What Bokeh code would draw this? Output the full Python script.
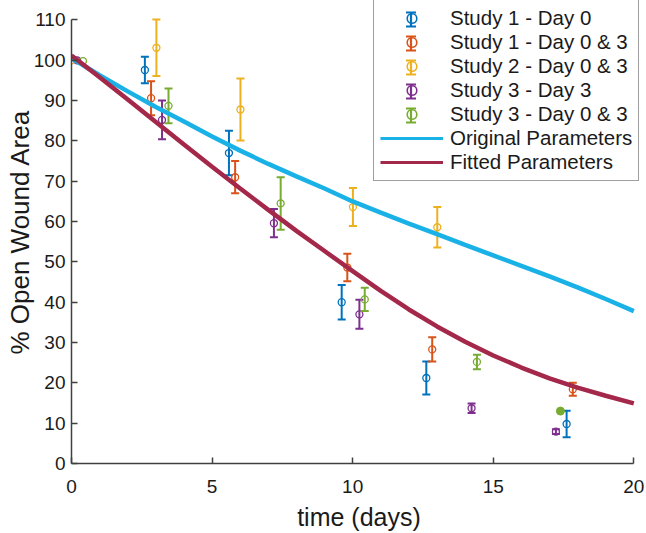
from bokeh.plotting import figure
from bokeh.models import Range1d, Legend, LegendItem, ColumnDataSource, FixedTicker
from bokeh.embed import file_html
from bokeh.resources import INLINE

# ---------------- data ----------------
x_ticks = [0, 5, 10, 15, 20]
y_ticks = [0, 10, 20, 30, 40, 50, 60, 70, 80, 90, 100, 110]

series_names = ["Study 1 - Day 0", "Study 1 - Day 0 & 3", "Study 2 - Day 0 & 3",
                "Study 3 - Day 3", "Study 3 - Day 0 & 3"]
series_colors = ["#0072BD", "#D95319", "#EDB120", "#7E2F8E", "#77AC30"]

s1_t = [2.61, 5.60, 9.61, 12.62, 17.61]
s1_y = [97.6, 77.0, 40.0, 21.2, 9.8]
s1_e = [3.3, 5.5, 4.3, 4.1, 3.3]

s2_t = [2.83, 5.82, 9.81, 12.83, 17.83]
s2_y = [90.6, 71.0, 48.6, 28.3, 18.4]
s2_e = [4.2, 4.0, 3.4, 3.0, 1.6]

s3_t = [0.0, 3.02, 6.01, 10.01, 13.01]
s3_y = [100.0, 103.1, 87.8, 63.6, 58.6]
s3_e = [0.0, 7.0, 7.7, 4.7, 5.0]

s4_t = [0.2, 3.22, 7.20, 10.24, 14.23, 17.23]
s4_y = [100.0, 85.2, 59.6, 37.0, 13.7, 7.9]
s4_e = [0.0, 4.8, 3.5, 3.6, 1.2, 0.6]

s5_t = [0.41, 3.45, 7.44, 10.43, 14.42]
s5_y = [99.8, 88.7, 64.5, 40.7, 25.2]
s5_e = [0.0, 4.3, 6.5, 2.9, 1.8]
s5_solid_t = [17.39]
s5_solid_y = [13.0]

curve_t = [0, 1, 2, 3, 4, 5, 6, 7, 8, 9, 10, 11, 12, 13, 14, 15, 16, 17, 18, 19, 20]
original_y = [100.5, 96.3, 92.3, 88.4, 84.8, 81.1, 77.6, 74.3, 71.2, 68.2, 65.0,
              62.2, 59.5, 56.9, 54.2, 51.6, 49.0, 46.4, 43.7, 40.8, 37.8]
fitted_y = [101.2, 95.8, 90.3, 84.7, 79.1, 73.6, 68.2, 62.9, 57.7, 52.7, 47.7,
            42.8, 38.2, 34.0, 30.2, 26.8, 23.8, 21.1, 18.8, 16.8, 14.9]

line_names = ["Original Parameters", "Fitted Parameters"]
line_colors = ["#1AB2E6", "#A4284A"]

# ---------------- figure ----------------
FONT = "Liberation Sans"
AX = "#404040"
W, H = 646, 533
BORDER_L, BORDER_B = 71, 70
# the frame reaches the top and right edges so that the legend fits there;
# the axis lines are bounded to the data limits
Y_TOP = 110 + 19.5 / 4.036
X_RIGHT = 20 + 12.7 / 28.13

p = figure(width=W, height=H, output_backend="svg", toolbar_location=None,
           x_range=Range1d(0, X_RIGHT), y_range=Range1d(0, Y_TOP),
           min_border_left=BORDER_L, min_border_right=0, min_border_top=0,
           min_border_bottom=BORDER_B)
p.outline_line_color = None
p.grid.visible = False
p.background_fill_color = "white"
p.border_fill_color = "white"


def errbars(t, y, e, color):
    bt = [a for a, b in zip(t, e) if b > 0]
    lo = [c - b for c, b in zip(y, e) if b > 0]
    hi = [c + b for c, b in zip(y, e) if b > 0]
    p.segment(bt, lo, bt, hi, line_color=color, line_width=2)
    p.scatter(bt, lo, marker="dash", size=8, line_color=color, line_width=2)
    p.scatter(bt, hi, marker="dash", size=8, line_color=color, line_width=2)
    p.scatter(t, y, marker="circle", size=7, fill_color=None,
              line_color=color, line_width=1.3)


all_series = [(s1_t, s1_y, s1_e), (s2_t, s2_y, s2_e), (s3_t, s3_y, s3_e),
              (s4_t, s4_y, s4_e), (s5_t, s5_y, s5_e)]
for (t, y, e), c in zip(all_series, series_colors):
    errbars(t, y, e, c)
p.scatter(s5_solid_t, s5_solid_y, marker="circle", size=8,
          fill_color=series_colors[4], line_color=series_colors[4])

p.line(curve_t, original_y, line_color=line_colors[0], line_width=4.5)
p.line(curve_t, fitted_y, line_color=line_colors[1], line_width=4.5)

# ---------------- legend (proxy renderers, NaN data -> not drawn in plot) ----------------
NAN = float("nan")
items = []
for name, c in zip(series_names, series_colors):
    src = ColumnDataSource(dict(x=[NAN], y=[NAN]))
    r = p.scatter("x", "y", source=src, marker="circle", size=10, fill_color=None,
                  line_color=c, line_width=1.6)
    items.append(LegendItem(label=name, renderers=[r]))
for name, c in zip(line_names, line_colors):
    src = ColumnDataSource(dict(x=[NAN, NAN], y=[NAN, NAN]))
    r = p.line("x", "y", source=src, line_color=c, line_width=3)
    items.append(LegendItem(label=name, renderers=[r]))

LG_X, LG_Y = 302, 282          # legend bottom-left, relative to the frame (px)
LG_PAD, LG_GW, LG_GH, LG_SP = 6, 63, 24, 0
legend = Legend(items=items, location=(LG_X, LG_Y), glyph_width=LG_GW, glyph_height=LG_GH,
                label_height=LG_GH, label_standoff=7, spacing=LG_SP, padding=LG_PAD,
                label_text_font=FONT, label_text_font_size="20.5px",
                label_text_color="#1a1a1a",
                border_line_color=AX, border_line_width=1.5,
                background_fill_color="white", background_fill_alpha=0.0)
p.add_layout(legend)

# error-bar stems/caps of the legend icons, placed under the (transparent) legend
px_per_x = (W - BORDER_L) / X_RIGHT
px_per_y = (H - BORDER_B) / Y_TOP
n_items = len(items)
lg_h = 2 * LG_PAD + n_items * LG_GH + (n_items - 1) * LG_SP
icon_x = (LG_X + LG_PAD + LG_GW / 2) / px_per_x
for i, c in enumerate(series_colors):
    cy = LG_Y + lg_h - LG_PAD - LG_GH / 2 - i * (LG_GH + LG_SP)
    lo, hi = (cy - 7) / px_per_y, (cy + 7) / px_per_y
    p.segment([icon_x], [lo], [icon_x], [hi], line_color=c, line_width=2.2)
    p.scatter([icon_x, icon_x], [lo, hi], marker="dash", size=10,
              line_color=c, line_width=2.2)

# ---------------- axes ----------------
for ax in (p.xaxis[0], p.yaxis[0]):
    ax.axis_line_color = AX
    ax.axis_line_width = 1.5
    ax.major_tick_line_color = AX
    ax.major_tick_line_width = 1.5
    ax.major_tick_in = 6
    ax.major_tick_out = 0
    ax.minor_tick_line_color = None
    ax.major_label_text_font = FONT
    ax.major_label_text_font_size = "19px"
    ax.major_label_text_color = "#1a1a1a"
    ax.axis_label_text_font = FONT
    ax.axis_label_text_font_style = "normal"
    ax.axis_label_text_color = "#1a1a1a"

p.xaxis.bounds = (0, 20)
p.yaxis.bounds = (0, 110)
p.xaxis.ticker = FixedTicker(ticks=x_ticks)
p.yaxis.ticker = FixedTicker(ticks=y_ticks)
p.xaxis.major_label_standoff = 16
p.yaxis.major_label_standoff = 6
p.xaxis.axis_label = "time (days)"
p.yaxis.axis_label = "% Open Wound Area"
p.xaxis.axis_label_text_font_size = "25px"
p.yaxis.axis_label_text_font_size = "26px"
p.xaxis.axis_label_standoff = 7
p.yaxis.axis_label_standoff = -4

open("out.html", "w").write(file_html(p, INLINE))
